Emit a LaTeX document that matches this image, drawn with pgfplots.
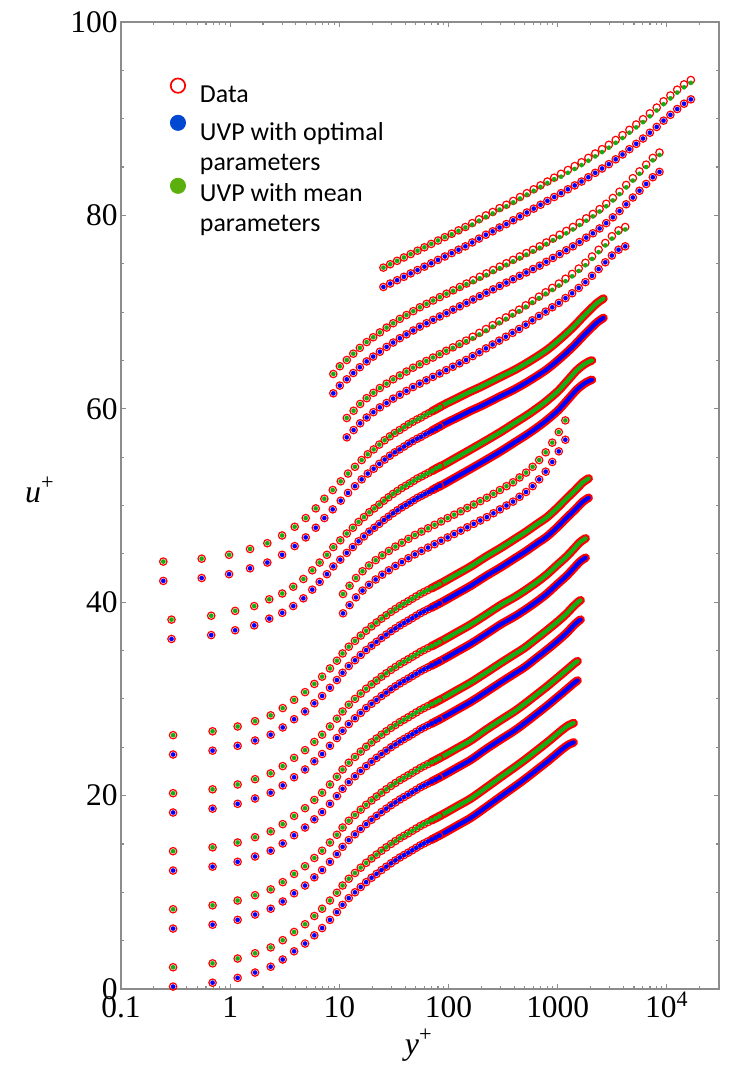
\documentclass[border=0pt]{standalone}
\usepackage{fontspec}
\setmainfont{Liberation Serif}
\newfontfamily\carlito{Carlito}
\usepackage{pgfplots}
\pgfplotsset{compat=1.18}
\usepackage{pgfplotstable}

\definecolor{dblue}{rgb}{0,0,1}
\definecolor{dgreen}{rgb}{0.08,0.68,0.08}
\definecolor{lblue}{rgb}{0.0,0.28,0.82}
\definecolor{lgreen}{rgb}{0.36,0.69,0.05}
\definecolor{axgray}{gray}{0.55}

% ---------- profile A (offset 0) ----------
\pgfplotstableread[row sep=\\]{y u\\
0.3 0.25\\ 0.69 0.65\\ 1.17 1.15\\ 1.69 1.7\\ 2.35 2.3\\ 3.03 3.05\\ 3.85 3.9\\ 4.85 4.7\\ 5.9 5.55\\ 6.95 6.3\\ 8.2 7.15\\ 9.5 7.95\\ 10.7 8.7\\ 12.2 9.4\\ 13.9 10.0\\ 15.7 10.55\\ 17.6 11.05\\ 19.7 11.5\\ 21.9 11.9\\ 24.3 12.3\\ 26.9 12.65\\ 29.7 13.0\\ 32.6 13.3\\ 35.8 13.6\\ 39.1 13.85\\ 42.7 14.1\\ 46.5 14.35\\ 50.6 14.6\\ 55 14.85\\ 59.5 15.05\\ 64.5 15.25\\ 70 15.45\\ 76 15.65\\ 82 15.85\\
}\pA
\pgfplotstableread[row sep=\\]{y u\\
70 15.45\\ 90 16.1\\ 120 16.9\\ 160 17.7\\ 220 18.8\\ 300 19.9\\ 400 20.9\\ 500 21.7\\ 650 22.7\\ 800 23.5\\ 950 24.2\\ 1100 24.8\\ 1250 25.25\\ 1400 25.5\\
}\bA
% ---------- profile B (offset 6) ----------
\pgfplotstableread[row sep=\\]{y u\\
0.3 6.25\\ 0.69 6.65\\ 1.17 7.15\\ 1.69 7.7\\ 2.35 8.3\\ 3.03 9.05\\ 3.85 9.9\\ 4.85 10.7\\ 5.9 11.55\\ 6.95 12.3\\ 8.2 13.15\\ 9.5 13.95\\ 10.7 14.7\\ 12.2 15.4\\ 13.9 16.0\\ 15.7 16.55\\ 17.6 17.05\\ 19.7 17.5\\ 21.9 17.9\\ 24.3 18.3\\ 26.9 18.65\\ 29.7 19.0\\ 32.6 19.3\\ 35.8 19.6\\ 39.1 19.85\\ 42.7 20.1\\ 46.5 20.35\\ 50.6 20.6\\ 55 20.85\\ 59.5 21.05\\ 64.5 21.25\\ 70 21.45\\ 76 21.65\\ 82 21.85\\
}\pB
\pgfplotstableread[row sep=\\]{y u\\
70 21.45\\ 90 22.1\\ 120 22.9\\ 160 23.7\\ 220 24.8\\ 300 25.8\\ 400 26.7\\ 500 27.5\\ 650 28.5\\ 800 29.3\\ 950 30.0\\ 1100 30.6\\ 1300 31.3\\ 1450 31.75\\ 1520 31.9\\
}\bB
% ---------- profile C (offset 12) ----------
\pgfplotstableread[row sep=\\]{y u\\
0.3 12.25\\ 0.69 12.65\\ 1.17 13.15\\ 1.69 13.7\\ 2.35 14.3\\ 3.03 15.05\\ 3.85 15.9\\ 4.85 16.7\\ 5.9 17.55\\ 6.95 18.3\\ 8.2 19.15\\ 9.5 19.95\\ 10.7 20.7\\ 12.2 21.4\\ 13.9 22.0\\ 15.7 22.55\\ 17.6 23.05\\ 19.7 23.5\\ 21.9 23.9\\ 24.3 24.3\\ 26.9 24.65\\ 29.7 25.0\\ 32.6 25.3\\ 35.8 25.6\\ 39.1 25.85\\ 42.7 26.1\\ 46.5 26.35\\ 50.6 26.6\\ 55 26.85\\ 59.5 27.05\\ 64.5 27.25\\ 70 27.45\\ 76 27.65\\ 82 27.85\\
}\pC
\pgfplotstableread[row sep=\\]{y u\\
70 27.45\\ 90 28.1\\ 120 28.9\\ 160 29.7\\ 220 30.7\\ 300 31.7\\ 400 32.6\\ 500 33.3\\ 650 34.3\\ 800 35.1\\ 1000 36.0\\ 1200 36.8\\ 1400 37.6\\ 1550 38.05\\ 1620 38.2\\
}\bC
% ---------- profile D (offset 18) ----------
\pgfplotstableread[row sep=\\]{y u\\
0.3 18.25\\ 0.69 18.65\\ 1.17 19.15\\ 1.69 19.7\\ 2.35 20.3\\ 3.03 21.05\\ 3.85 21.9\\ 4.85 22.7\\ 5.9 23.55\\ 6.95 24.3\\ 8.2 25.15\\ 9.5 25.95\\ 10.7 26.7\\ 12.2 27.4\\ 13.9 28.0\\ 15.7 28.55\\ 17.6 29.05\\ 19.7 29.5\\ 21.9 29.9\\ 24.3 30.3\\ 26.9 30.65\\ 29.7 31.0\\ 32.6 31.3\\ 35.8 31.6\\ 39.1 31.85\\ 42.7 32.1\\ 46.5 32.35\\ 50.6 32.6\\ 55 32.85\\ 59.5 33.05\\ 64.5 33.25\\ 70 33.45\\ 76 33.65\\ 82 33.85\\
}\pD
\pgfplotstableread[row sep=\\]{y u\\
70 33.45\\ 90 34.1\\ 120 34.9\\ 160 35.7\\ 220 36.7\\ 300 37.7\\ 400 38.5\\ 500 39.2\\ 650 40.1\\ 800 40.9\\ 1000 41.9\\ 1200 42.7\\ 1400 43.5\\ 1600 44.2\\ 1800 44.6\\
}\bD
% ---------- profile E (offset 24) ----------
\pgfplotstableread[row sep=\\]{y u\\
0.3 24.25\\ 0.69 24.65\\ 1.17 25.15\\ 1.69 25.7\\ 2.35 26.3\\ 3.03 27.05\\ 3.85 27.9\\ 4.85 28.7\\ 5.9 29.55\\ 6.95 30.3\\ 8.2 31.15\\ 9.5 31.95\\ 10.7 32.7\\ 12.2 33.4\\ 13.9 34.0\\ 15.7 34.55\\ 17.6 35.05\\ 19.7 35.5\\ 21.9 35.9\\ 24.3 36.3\\ 26.9 36.65\\ 29.7 37.0\\ 32.6 37.3\\ 35.8 37.6\\ 39.1 37.85\\ 42.7 38.1\\ 46.5 38.35\\ 50.6 38.6\\ 55 38.85\\ 59.5 39.05\\ 64.5 39.25\\ 70 39.45\\ 76 39.65\\ 82 39.85\\
}\pE
\pgfplotstableread[row sep=\\]{y u\\
70 39.45\\ 90 40.1\\ 120 40.9\\ 160 41.7\\ 220 42.7\\ 300 43.6\\ 400 44.5\\ 500 45.2\\ 650 46.1\\ 800 46.8\\ 1000 47.8\\ 1200 48.7\\ 1450 49.6\\ 1700 50.4\\ 1920 50.8\\
}\bE
% ---------- profile F (offset 36) ----------
\pgfplotstableread[row sep=\\]{y u\\
0.29 36.2\\ 0.67 36.6\\ 1.11 37.1\\ 1.66 37.6\\ 2.28 38.3\\ 3.0 38.9\\ 3.78 39.6\\ 4.68 40.4\\ 5.65 41.3\\ 6.6 42.1\\ 7.7 42.9\\ 8.8 43.7\\ 10.2 44.4\\ 11.7 45.1\\ 13.3 45.7\\ 15.0 46.3\\ 16.8 46.8\\ 18.8 47.3\\ 20.9 47.7\\ 23.2 48.1\\ 25.6 48.5\\ 28.2 48.85\\ 31 49.2\\ 34 49.5\\ 37.2 49.8\\ 40.6 50.05\\ 44.2 50.3\\ 48 50.55\\ 52 50.8\\ 56.5 51.0\\ 61 51.2\\ 66 51.4\\ 71 51.6\\ 77 51.85\\ 83 52.05\\
}\pF
\pgfplotstableread[row sep=\\]{y u\\
71 51.6\\ 90 52.2\\ 120 53.0\\ 160 53.8\\ 220 54.7\\ 300 55.6\\ 400 56.5\\ 550 57.5\\ 750 58.6\\ 1000 59.8\\ 1250 61.0\\ 1500 62.0\\ 1750 62.6\\ 1950 62.9\\ 2055 63.0\\
}\bF
% ---------- profile G (offset 42) ----------
\pgfplotstableread[row sep=\\]{y u\\
0.244 42.2\\ 0.548 42.5\\ 0.977 42.9\\ 1.52 43.5\\ 2.19 44.1\\ 2.99 44.9\\ 3.9 45.8\\ 4.92 46.7\\ 6.08 47.7\\ 7.29 48.7\\ 8.7 49.6\\ 10.3 50.5\\ 12.0 51.3\\ 13.9 52.0\\ 16.0 52.7\\ 18.2 53.3\\ 20.6 53.8\\ 23.2 54.3\\ 26 54.75\\ 29 55.15\\ 32.2 55.5\\ 35.6 55.8\\ 39.2 56.1\\ 43 56.4\\ 47 56.65\\ 51.5 56.9\\ 56 57.1\\ 61 57.35\\ 66 57.55\\ 71 57.75\\ 77 57.95\\ 83 58.15\\
}\pG
\pgfplotstableread[row sep=\\]{y u\\
71 57.75\\ 90 58.4\\ 120 59.1\\ 160 59.8\\ 200 60.3\\ 300 61.3\\ 400 62.0\\ 550 62.9\\ 800 64.1\\ 1100 65.4\\ 1400 66.5\\ 1700 67.5\\ 2000 68.3\\ 2300 68.95\\ 2625 69.4\\
}\bG
% ---------- profile H (offset 30) ----------
\pgfplotstableread[row sep=\\]{y u\\
10.8 38.85\\ 12.4 39.7\\ 14.2 40.5\\ 16.3 41.2\\ 18.7 41.8\\ 21.5 42.35\\ 24.7 42.85\\ 28.4 43.3\\ 32.6 43.75\\ 37.4 44.15\\ 42.9 44.55\\ 49.2 44.95\\ 56.5 45.3\\ 64.9 45.65\\ 74.5 46.0\\ 85.5 46.35\\ 98.1 46.7\\ 112.6 47.05\\ 129.3 47.4\\ 148.4 47.75\\ 170.3 48.1\\ 195.5 48.45\\ 224.4 48.8\\ 257.6 49.2\\ 295.6 49.6\\ 339.3 50.0\\ 389.5 50.4\\ 447.1 50.9\\ 513.2 51.4\\ 589 52.0\\ 676 52.7\\ 776 53.5\\ 891 54.5\\ 1023 55.6\\ 1174 56.8\\
}\pH
% ---------- profile I ----------
\pgfplotstableread[row sep=\\]{y u g\\
11.7 57.05 59.05\\ 13.5 57.8 59.8\\ 15.5 58.5 60.5\\ 17.8 59.1 61.1\\ 20.5 59.65 61.65\\ 23.5 60.15 62.15\\ 27.1 60.6 62.6\\ 31.1 61.05 63.05\\ 35.8 61.45 63.45\\ 41.2 61.85 63.85\\ 47.3 62.25 64.25\\ 54.4 62.6 64.6\\ 62.6 62.95 64.95\\ 72.0 63.3 65.3\\ 82.8 63.65 65.65\\ 95.2 64.0 66.0\\ 109.5 64.35 66.3\\ 125.9 64.7 66.65\\ 144.8 65.05 67.0\\ 166.5 65.45 67.3\\ 191.5 65.85 67.7\\ 220.2 66.25 68.1\\ 253.3 66.65 68.5\\ 291.2 67.05 68.9\\ 334.9 67.45 69.3\\ 385.2 67.85 69.7\\ 442.9 68.25 70.1\\ 509.4 68.7 70.55\\ 585.8 69.15 71.0\\ 673.6 69.6 71.45\\ 774.7 70.05 71.9\\ 890.9 70.5 72.3\\ 1024.5 70.95 72.75\\ 1178 71.45 73.2\\ 1355 71.95 73.7\\ 1558 72.5 74.25\\ 1792 73.1 74.85\\ 2061 73.75 75.5\\ 2370 74.45 76.2\\ 2726 75.15 76.9\\ 3134 75.85 77.6\\ 3605 76.45 78.2\\ 4150 76.8 78.55\\
}\pI
% ---------- profile J ----------
\pgfplotstableread[row sep=\\]{y u g\\
8.8 61.6 63.6\\ 10.1 62.4 64.4\\ 11.7 63.05 65.05\\ 13.4 63.7 65.7\\ 15.4 64.3 66.3\\ 17.8 64.9 66.9\\ 20.4 65.4 67.4\\ 23.5 65.9 67.9\\ 27.1 66.4 68.4\\ 31.1 66.85 68.85\\ 35.8 67.3 69.3\\ 41.2 67.7 69.7\\ 47.5 68.1 70.1\\ 54.6 68.5 70.5\\ 62.9 68.85 70.85\\ 72.3 69.2 71.2\\ 83.2 69.55 71.55\\ 95.8 69.9 71.9\\ 110.2 70.25 72.2\\ 126.8 70.6 72.55\\ 145.9 70.95 72.9\\ 167.9 71.3 73.15\\ 193.2 71.65 73.5\\ 222.3 72.0 73.85\\ 255.8 72.35 74.2\\ 294.3 72.7 74.55\\ 338.7 73.05 74.9\\ 389.7 73.4 75.25\\ 448.4 73.75 75.6\\ 516 74.1 75.95\\ 593.8 74.45 76.3\\ 683.2 74.8 76.65\\ 786.2 75.2 77.05\\ 904.7 75.6 77.45\\ 1041 76.0 77.75\\ 1198 76.4 78.15\\ 1378 76.8 78.55\\ 1586 77.25 79.0\\ 1825 77.7 79.45\\ 2100 78.15 79.9\\ 2417 78.65 80.4\\ 2781 79.2 80.95\\ 3200 79.8 81.55\\ 3682 80.45 82.2\\ 4237 81.15 82.9\\ 4876 81.85 83.6\\ 5610 82.55 84.3\\ 6456 83.25 85.0\\ 7429 83.95 85.7\\ 8550 84.5 86.25\\
}\pJ
% ---------- profile K ----------
\pgfplotstableread[row sep=\\]{y u g\\
25.3 72.6 74.6\\ 29.2 72.95 74.95\\ 33.8 73.3 75.3\\ 39.0 73.65 75.65\\ 45.0 74.0 76.0\\ 52.0 74.35 76.35\\ 60.1 74.7 76.7\\ 69.4 75.05 77.05\\ 80.1 75.4 77.4\\ 92.5 75.75 77.75\\ 106.9 76.1 78.05\\ 123.4 76.45 78.4\\ 142.6 76.8 78.75\\ 164.7 77.2 79.05\\ 190.2 77.6 79.45\\ 219.7 78.0 79.85\\ 253.7 78.35 80.2\\ 293.1 78.75 80.6\\ 338.5 79.1 80.95\\ 391 79.5 81.35\\ 451.6 79.9 81.75\\ 521.6 80.3 82.15\\ 602.5 80.7 82.55\\ 695.9 81.1 82.95\\ 803.8 81.5 83.35\\ 928.4 81.9 83.75\\ 1072 82.3 84.0\\ 1239 82.7 84.4\\ 1431 83.1 84.8\\ 1652 83.5 85.2\\ 1908 83.95 85.65\\ 2204 84.4 86.1\\ 2546 84.85 86.55\\ 2940 85.3 87.0\\ 3396 85.8 87.5\\ 3923 86.3 88.0\\ 4531 86.85 88.55\\ 5233 87.4 89.1\\ 6044 87.95 89.65\\ 6981 88.55 90.25\\ 8063 89.15 90.85\\ 9313 89.8 91.5\\ 10760 90.4 92.1\\ 12420 91.0 92.7\\ 14350 91.55 93.25\\ 16570 92.0 93.7\\
}\pK

\pgfplotsset{
  datc/.style={only marks, color=red, mark=o, mark size=1.85bp, mark options={solid, draw=red, line width=0.6bp, fill=none}, forget plot},
  bdot/.style={only marks, color=dblue, mark=*, mark size=1.1bp, mark options={solid, draw=dblue, fill=dblue, line width=0.1bp}, forget plot},
  gdot/.style={only marks, color=dgreen, mark=*, mark size=1.1bp, mark options={solid, draw=dgreen, fill=dgreen, line width=0.1bp}, forget plot},
  rband/.style={no marks, draw=red, line width=4.3bp, line cap=round, line join=round, smooth, forget plot},
  bband/.style={no marks, draw=dblue, line width=2.1bp, line cap=round, line join=round, smooth, forget plot},
  gband/.style={no marks, draw=dgreen, line width=2.1bp, line cap=round, line join=round, smooth, forget plot},
}

\newcommand{\profile}[2]{%
  \addplot[rband] table[x=y,y=u] {#2};
  \addplot[datc] table[x=y,y=u] {#1};
  \addplot[bband] table[x=y,y=u] {#2};
  \addplot[bdot] table[x=y,y=u] {#1};
  \addplot[rband] table[x=y,y expr=\thisrow{u}+2] {#2};
  \addplot[datc] table[x=y,y expr=\thisrow{u}+2] {#1};
  \addplot[gband] table[x=y,y expr=\thisrow{u}+2] {#2};
  \addplot[gdot] table[x=y,y expr=\thisrow{u}+2] {#1};
}
\newcommand{\sparseprofile}[1]{%
  \addplot[datc] table[x=y,y=u] {#1};
  \addplot[bdot] table[x=y,y=u] {#1};
  \addplot[datc] table[x=y,y expr=\thisrow{u}+2] {#1};
  \addplot[gdot] table[x=y,y expr=\thisrow{u}+2] {#1};
}
\newcommand{\sparseprofileg}[1]{%
  \addplot[datc] table[x=y,y=u] {#1};
  \addplot[bdot] table[x=y,y=u] {#1};
  \addplot[datc] table[x=y,y expr=\thisrow{u}+2] {#1};
  \addplot[gdot] table[x=y,y=g] {#1};
}

\begin{document}
\begin{tikzpicture}
\begin{axis}[
  name=ax, at={(0,0)}, anchor=south west,
  scale only axis, width=299bp, height=483.5bp,
  xmode=log, log basis x=10,
  xmin=0.1, xmax=30000, ymin=0, ymax=100,
  xtick={0.1,1,10,100,1000,10000},
  xticklabels={0.1,1,10,100,1000,10\textsuperscript{4}},
  minor xtick={0.2,0.3,0.4,0.5,0.6,0.7,0.8,0.9,2,3,4,5,6,7,8,9,20,30,40,50,60,70,80,90,200,300,400,500,600,700,800,900,2000,3000,4000,5000,6000,7000,8000,9000,20000},
  ytick={0,20,40,60,80,100},
  yticklabels={0,20,40,60,80,100},
  minor ytick={5,10,15,25,30,35,45,50,55,65,70,75,85,90,95},
  tick align=inside,
  axis line style={draw=axgray, line width=0.75bp},
  every tick/.style={draw=axgray, line width=0.55bp},
  major tick length=2.7bp, minor tick length=1.5bp,
  tick label style={font=\fontsize{15.8}{18}\selectfont, text=black},
  xticklabel style={anchor=base, yshift=-14bp},
  yticklabel style={anchor=east, inner sep=0pt, xshift=-1.5bp},
  xlabel={\textit{y}\textsuperscript{+}},
  ylabel={\textit{u}\textsuperscript{+}},
  label style={font=\fontsize{16}{18}\selectfont},
  xlabel style={at={(axis description cs:0.498,-0.058)}, anchor=center},
  ylabel style={rotate=-90, at={(axis description cs:-0.1355,0.516)}, anchor=center},
  legend cell align=left,
  legend style={draw=none, fill=none, inner sep=0pt, outer sep=0pt,
    at={(axis description cs:0.0819,0.9344)}, anchor=north west,
    font=\carlito\fontsize{13}{16}\selectfont,
    row sep=3.9bp, column sep=7bp,
    nodes={inner sep=0pt, text height=8.6bp, text depth=2.8bp}},
]
\addlegendimage{legend image code/.code={\path[draw=none,fill=none] (0bp,0bp) -- (8bp,0bp); \draw[overlay, red, line width=0.85bp] (4bp,5.6bp) circle (3.6bp);}}
\addlegendentry{Data}
\addlegendimage{legend image code/.code={\path[draw=none,fill=none] (0bp,0bp) -- (8bp,9.1bp); \fill[overlay, lblue] (4bp,5.7bp) circle (3.8bp);}}
\addlegendentry{UVP with optimal}
\addlegendimage{empty legend}
\addlegendentry{parameters}
\addlegendimage{legend image code/.code={\path[draw=none,fill=none] (0bp,0bp) -- (8bp,0bp); \fill[overlay, lgreen] (4bp,4.8bp) circle (3.8bp);}}
\addlegendentry{UVP with mean}
\addlegendimage{empty legend}
\addlegendentry{parameters}

\profile{\pA}{\bA}
\profile{\pB}{\bB}
\profile{\pC}{\bC}
\profile{\pD}{\bD}
\profile{\pE}{\bE}
\profile{\pF}{\bF}
\profile{\pG}{\bG}
\sparseprofile{\pH}
\sparseprofileg{\pI}
\sparseprofileg{\pJ}
\sparseprofileg{\pK}
\end{axis}
\pgfresetboundingbox
\path (ax.south west) ++(-60.5bp,-40.5bp) rectangle ++(366bp,535bp);
\end{tikzpicture}
\end{document}
